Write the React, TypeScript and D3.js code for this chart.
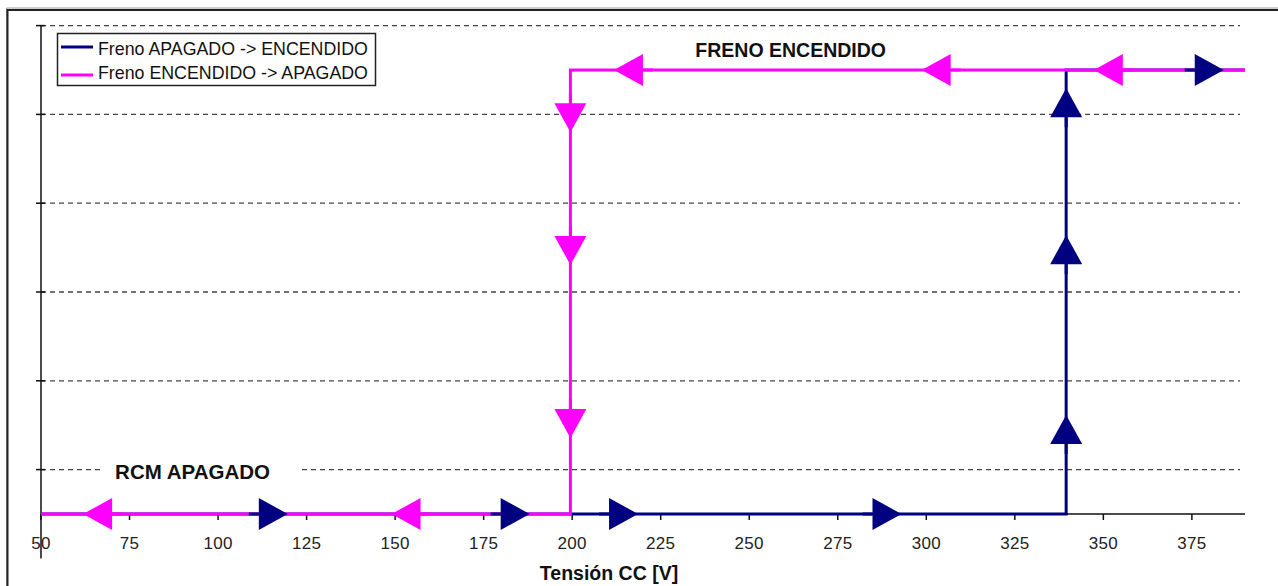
import React from 'react';
import * as d3 from 'd3';

// tension values (V) and state (0 = apagado, 1 = encendido)
const xTicks = [50, 75, 100, 125, 150, 175, 200, 225, 250, 275, 300, 325, 350, 375];
const gridValues = [0.1, 0.3, 0.5, 0.7, 0.9, 1.1];

const onOffX = [50, 339.5, 339.5, 390];
const onOffY = [0, 0, 1, 1];
const offOnX = [390, 199.5, 199.5, 50];
const offOnY = [1, 1, 0, 0];

// arrow tips: [x, y, direction]
const blueArrows: [number, number, string][] = [
  [119.7, 0, 'right'], [188, 0, 'right'], [218.6, 0, 'right'], [293, 0, 'right'], [384, 1, 'right'],
  [339.5, 0.223, 'up'], [339.5, 0.628, 'up'], [339.5, 0.959, 'up'],
];
const pinkArrows: [number, number, string][] = [
  [61.9, 0, 'left'], [149, 0, 'left'], [211.8, 1, 'left'], [298.7, 1, 'left'], [347.3, 1, 'left'],
  [199.5, 0.86, 'down'], [199.5, 0.561, 'down'], [199.5, 0.171, 'down'],
];

const legendNames = ['Freno APAGADO -> ENCENDIDO', 'Freno ENCENDIDO -> APAGADO'];
const BLUE = '#000080';
const PINK = '#ff00ff';

const width = 1278, height = 586;

function Arrow({ x, y, dir, color }: { x: number; y: number; dir: string; color: string }) {
  const len = 29, half = 16, tail = 10;
  // drawn pointing right, then rotated
  const rot = { right: 0, left: 180, up: -90, down: 90 }[dir] || 0;
  return (
    <g transform={`translate(${x},${y}) rotate(${rot})`}>
      <line x1={-len - tail} y1={0} x2={-len} y2={0} stroke={color} strokeWidth={3} />
      <path d={`M0,0 L${-len},${-half} L${-len},${half} Z`} fill={color} />
    </g>
  );
}

export default function App() {
  const x = d3.scaleLinear().domain([50, 390]).range([41, 1245]);
  const y = d3.scaleLinear().domain([-0.1, 1.1]).range([558.4, 25.6]);

  const path = (xs: number[], ys: number[]) =>
    d3.line<number>().x((d) => x(d)).y((_, i) => y(ys[i]))(xs) || '';

  const font = '"Liberation Sans", Arial, sans-serif';

  return (
    <svg width={width} height={height} style={{ position: 'absolute', left: 0, top: 0, background: '#fff' }}>
      {/* outer frame */}
      <path d="M6.5,600 V8 H1300" fill="none" stroke="#999" strokeWidth={1} />
      <path d="M7.5,600 V10 H1300" fill="none" stroke="#222" strokeWidth={2} />

      {/* grid */}
      {gridValues.map((g) => (
        <line key={g} x1={x(50)} x2={1240} y1={y(g)} y2={y(g)} stroke="#444" strokeWidth={1.3} strokeDasharray="5,4" />
      ))}

      {/* axes */}
      <line x1={x(50)} x2={x(50)} y1={y(-0.1)} y2={y(1.1)} stroke="#111" strokeWidth={1.5} />
      {gridValues.map((g) => (
        <line key={'yt' + g} x1={x(50) - 5} x2={x(50) + 4} y1={y(g)} y2={y(g)} stroke="#111" strokeWidth={1.5} />
      ))}
      <line x1={x(50)} x2={x(390)} y1={y(0)} y2={y(0)} stroke="#111" strokeWidth={1.5} />
      {xTicks.map((t) => (
        <g key={t}>
          <line x1={x(t)} x2={x(t)} y1={y(0)} y2={y(0) + 6} stroke="#111" strokeWidth={1.5} />
          <text x={x(t)} y={549} textAnchor="middle" fontFamily={font} fontSize={17} letterSpacing={0.3} fill="#222">{t}</text>
        </g>
      ))}
      <text x={609} y={580} textAnchor="middle" fontFamily={font} fontSize={19.5} fontWeight="bold" fill="#111">Tensión CC [V]</text>

      {/* series */}
      <path d={path(onOffX, onOffY)} fill="none" stroke={BLUE} strokeWidth={3} />
      <path d={path(offOnX, offOnY)} fill="none" stroke={PINK} strokeWidth={3} />
      {blueArrows.map(([ax, ay, d], i) => (
        <Arrow key={'b' + i} x={x(ax)} y={y(ay)} dir={d} color={BLUE} />
      ))}
      {pinkArrows.map(([ax, ay, d], i) => (
        <Arrow key={'p' + i} x={x(ax)} y={y(ay)} dir={d} color={PINK} />
      ))}

      {/* annotations */}
      <rect x={103} y={458} width={199} height={26} fill="#fff" />
      <text x={x(92.8)} y={y(0.079)} textAnchor="middle" fontFamily={font} fontSize={20.5} fontWeight="bold" fill="#111">RCM APAGADO</text>
      <text x={x(261.7)} y={y(1.029)} textAnchor="middle" fontFamily={font} fontSize={19.5} fontWeight="bold" fill="#111">FRENO ENCENDIDO</text>

      {/* legend */}
      <rect x={57.5} y={33.5} width={318} height={52} fill="#fff" stroke="#222" strokeWidth={1.5} />
      {legendNames.map((n, i) => (
        <g key={n}>
          <line x1={61} x2={93} y1={47 + i * 28} y2={47 + i * 28} stroke={i === 0 ? BLUE : PINK} strokeWidth={3} />
          <text x={98} y={55 + i * 24} fontFamily={font} fontSize={17.8} fill="#111">{n}</text>
        </g>
      ))}
    </svg>
  );
}
